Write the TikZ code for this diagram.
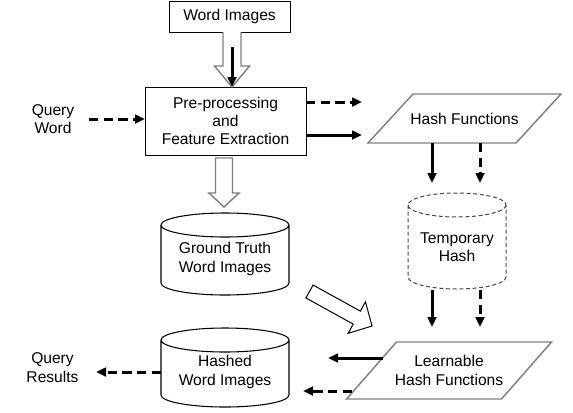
\documentclass[tikz,border=0pt]{standalone}
\usepackage{fontspec}
\setmainfont{Liberation Sans}
\usetikzlibrary{arrows.meta,calc}
\definecolor{shapegray}{RGB}{128,128,128}
\definecolor{dashgray}{RGB}{70,70,70}
\tikzset{
  flowbox/.style={draw, line width=0.75pt, inner sep=0pt, outer sep=0pt, align=center},
  textnode/.style={inner sep=0pt, outer sep=0pt, align=center},
  solidflow/.style={line width=2.25pt, -{Triangle[length=7.5pt,width=6.5pt]}},
  dashflow/.style={solidflow, dash pattern=on 7pt off 4pt},
  hollowflow/.style={draw=shapegray, fill=white, line width=1.1pt},
  canline/.style={draw=black, line width=0.8pt},
}
\begin{document}
\begin{tikzpicture}[x=0.75pt,y=0.75pt,yscale=-1,xscale=1,font=\fontsize{11.7pt}{13.8pt}\selectfont]
\useasboundingbox (0,0) rectangle (573,412);

% Text Node
\node [flowbox, minimum width=90.75pt, minimum height=23.25pt] (words) at (229.5,16.5) {Word Images};
% Text Node
\node [flowbox, minimum width=120.75pt, minimum height=51pt] (prep) at (225.5,121) {Pre-processing\\and\\Feature Extraction};
% Text Node
\node [textnode] (query) at (53,119) {Query\\Word};
% Text Node
\node [textnode, minimum width=111pt, minimum height=36.75pt] (hash) at (464.5,118.5) {Hash Functions};
% Text Node
\node [textnode] (temp) at (457,247) {Temporary\\Hash};
% Text Node
\node [textnode, minimum width=96pt] (truth) at (225,259) {Ground Truth\\Word Images};
% Text Node
\node [textnode, minimum width=116.25pt, minimum height=42.75pt] (learn) at (449,370.5) {Learnable\\Hash Functions};
% Text Node
\node [textnode, minimum width=96pt] (hashed) at (225,372) {Hashed\\Word Images};
% Text Node
\node [textnode] (results) at (52.5,367.5) {Query\\Results};

%Shape: Parallelogram
\draw [shapegray, line width=1.1pt] ($(hash.north west)+(22.5,0)$) -- ($(hash.north east)+(22.5,0)$) -- ($(hash.south east)+(-22.5,0)$) -- ($(hash.south west)+(-22.5,0)$) -- cycle ;
%Shape: Parallelogram
\draw [shapegray, line width=1.1pt] ($(learn.north west)+(25,0)$) -- ($(learn.north east)+(25,0)$) -- ($(learn.south east)+(-25,0)$) -- ($(learn.south west)+(-25,0)$) -- cycle ;

%Shape: Can
\draw [dashgray, line width=0.75pt, dash pattern=on 3pt off 2pt] (457,205) ellipse [x radius=49, y radius=12] (408,205) -- (408,277) arc [start angle=180, end angle=0, x radius=49, y radius=12] -- (506,205) ;
%Shape: Can
\draw [canline] (225,225) ellipse [x radius=64, y radius=12] (161,225) -- (161,283) arc [start angle=180, end angle=0, x radius=64, y radius=12] -- (289,225) ;
%Shape: Can
\draw [canline] (225,340) ellipse [x radius=64, y radius=12] (161,340) -- (161,395) arc [start angle=180, end angle=0, x radius=64, y radius=12] -- (289,340) ;

%Block Arrows
\draw [hollowflow, shift={($(words.south)+(2.5,0)$)}] (-9,0) -- (-9,34) -- (-17.5,34) -- (0,55) -- (17.5,34) -- (9,34) -- (9,0) ;
\draw [hollowflow, shift={($(prep.south)+(-1.5,0)$)}] (-8.5,3) -- (-8.5,38) -- (-15,38) -- (0,52) -- (15,38) -- (8.5,38) -- (8.5,3) -- cycle ;
\coordinate (gt) at (309.5,291.5);
\draw [draw=black, fill=white, line width=0.75pt, shift={(gt)}, rotate=28.9] (0,-7.4) -- (54,-7.4) -- (54,-18) -- (71.4,0) -- (54,18) -- (54,7.4) -- (0,7.4) -- cycle ;

%Straight Lines
\draw [solidflow] ($(words.south)+(2.5,15)$) -- ($(prep.north)+(6.5,0)$) ;
\coordinate (qw) at (89,119);
\draw [dashflow] (qw) -- (qw -| prep.west) ;
\coordinate (hd) at (362,102);
\coordinate (hs) at (362,135);
\draw [dashflow] (prep.east |- hd) -- (hd) ;
\draw [solidflow] (prep.east |- hs) -- (hs) ;
\coordinate (ta) at (432,183);
\coordinate (tb) at (480,183);
\draw [solidflow] (hash.south -| ta) -- (ta) ;
\draw [dashflow] (hash.south -| tb) -- (tb) ;
\coordinate (tempbase) at (457,290);
\coordinate (la) at (432,327);
\coordinate (lb) at (480,327);
\draw [solidflow] (tempbase -| la) -- (la) ;
\draw [dashflow] (tempbase -| lb) -- (lb) ;
\coordinate (ls) at (383,358);
\coordinate (ld) at (352,391);
\draw [solidflow] (ls) -- ($(ls)+(-55,0)$) ;
\draw [dashflow] (ld) -- ($(ld)+(-49,0)$) ;
\coordinate (qr) at (96,372);
\draw [dashflow] (hashed.west) -- (hashed.west -| qr) ;

\end{tikzpicture}
\end{document}
